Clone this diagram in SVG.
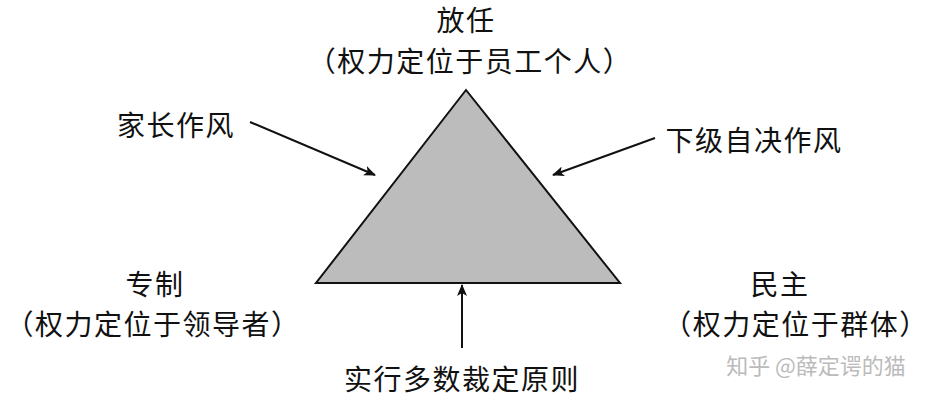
<svg xmlns="http://www.w3.org/2000/svg" width="940" height="404" viewBox="0 0 940 404">
<style>
text{font-family:"Noto Sans CJK SC","Liberation Serif",serif;font-size:28px;letter-spacing:1.5px;fill:#111;text-anchor:middle}
.c{stroke:#111;stroke-width:2;fill:none}
</style>
<defs><marker id="a" viewBox="0 0 12 10" refX="11" refY="5" markerWidth="12" markerHeight="10" markerUnits="userSpaceOnUse" orient="auto"><path d="M0,0L12,5L0,10L3,5Z" fill="#111"/></marker></defs>
<rect width="940" height="404" fill="#fff"/>
<g id="triangle"><path d="M466,90L316,283L620,283Z" fill="#bcbcbc" stroke="#111" stroke-width="2"/></g>
<g id="top"><text x="466" y="31">放任</text><text x="470" y="72">（权力定位于员工个人）</text></g>
<g id="paternal"><text x="176" y="136">家长作风</text></g>
<g id="selfdecide"><text x="754" y="151">下级自决作风</text></g>
<g id="autocracy"><text x="155" y="295">专制</text><text x="153" y="335">（权力定位于领导者）</text></g>
<g id="democracy"><text x="780" y="295">民主</text><text x="796" y="335">（权力定位于群体）</text></g>
<g id="majority"><text x="462" y="390">实行多数裁定原则</text></g>
<g id="connectors">
<line class="c" x1="250" y1="122" x2="375" y2="175" marker-end="url(#a)"/>
<line class="c" x1="655" y1="138" x2="553" y2="175" marker-end="url(#a)"/>
<line class="c" x1="462" y1="348" x2="462" y2="285" marker-end="url(#a)"/>
</g>
<text x="816" y="374" style="fill:#bbb;font-size:22px;letter-spacing:0">知乎 @薛定谔的猫</text>
</svg>
